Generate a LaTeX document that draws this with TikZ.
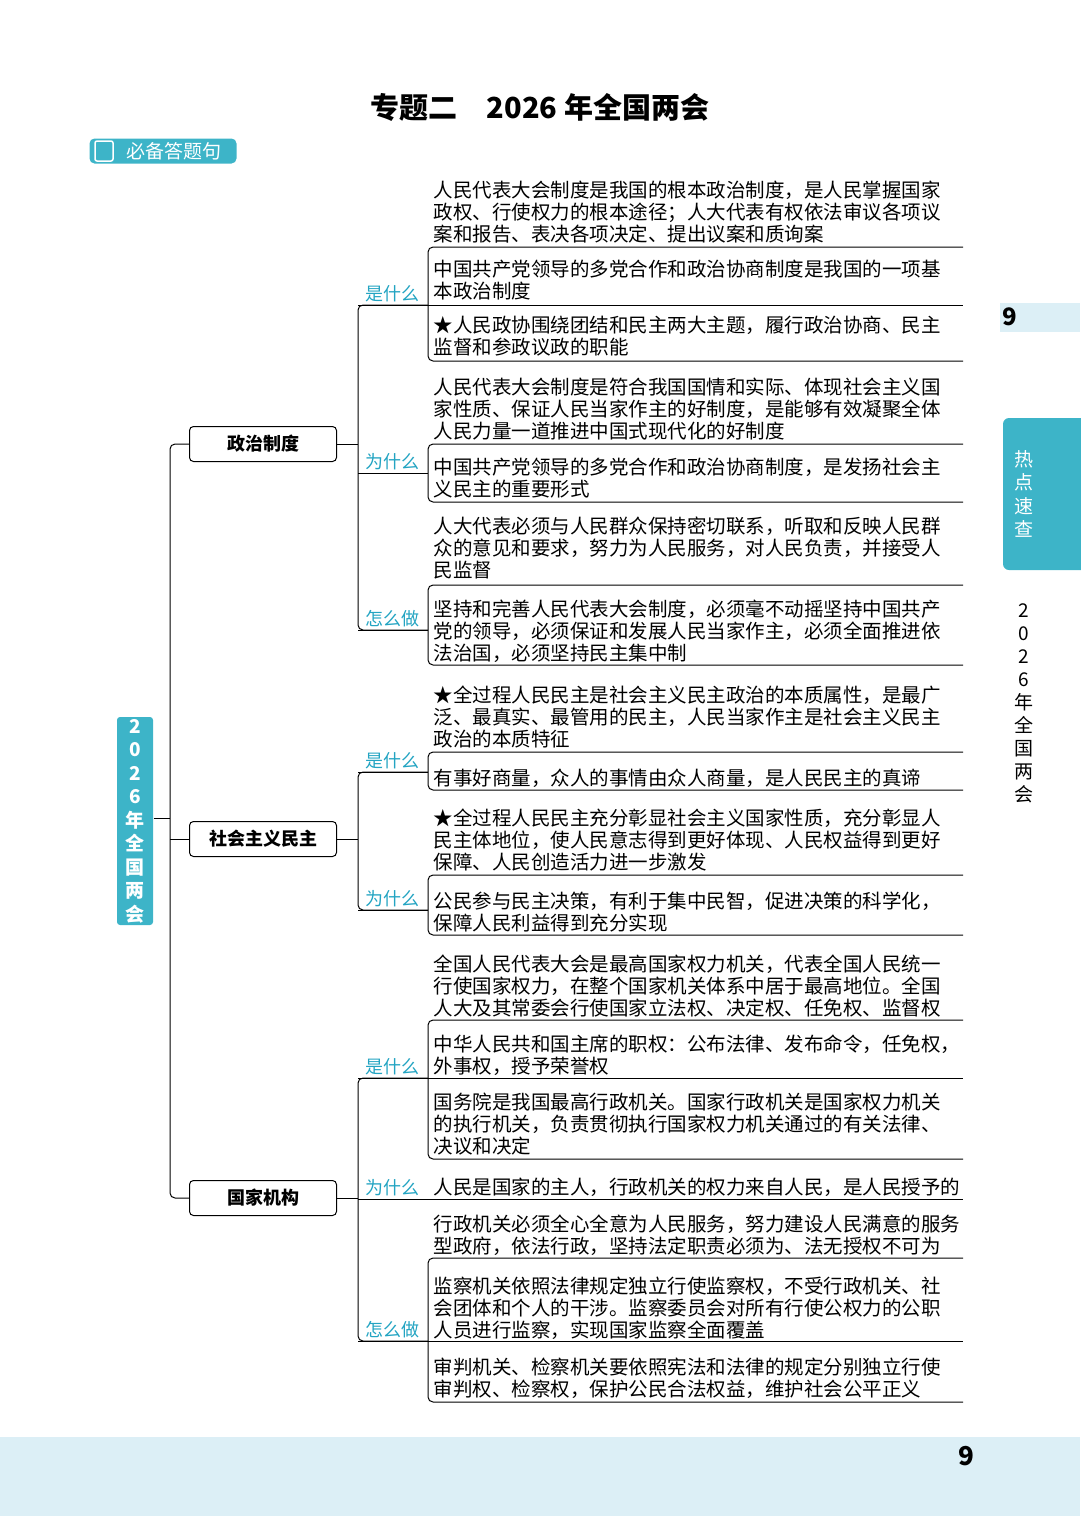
\documentclass[tikz,border=0pt]{standalone}
\usepackage{fontspec}
\setmainfont{Noto Sans CJK SC}
\newfontfamily\cjk{Noto Sans CJK SC}
\definecolor{teal}{HTML}{3DB4C8}
\definecolor{labcol}{HTML}{23A4C2}
\definecolor{pale}{HTML}{DCEFF6}
\begin{document}
\begin{tikzpicture}[x=1pt,y=-1pt,line width=1pt,
  item/.style={anchor=north west,inner sep=0pt,align=left,font=\fontsize{19.5}{22}\selectfont},
  lab/.style={text=labcol,inner sep=0pt,font=\fontsize{18}{20}\selectfont},
  mainbox/.style={draw,rounded corners=4pt,minimum width=147pt,minimum height=35pt,font=\bfseries\fontsize{18}{20}\selectfont},
  vert/.style={align=center,inner sep=0pt,font=\bfseries\fontsize{19}{23.5}\selectfont}]
  \useasboundingbox (0,0) rectangle (1080,1516);
  % page decoration
  \fill[pale] (0,1437) rectangle (1080,1516);
  \node[font=\bfseries\fontsize{26}{28}\selectfont] (pgnum) at (966,1456) {9};
  \fill[pale] (1000,303) rectangle (1080,332);
  \node[font=\bfseries\fontsize{24}{26}\selectfont] (tabnum) at (1010,317) {9};
  \fill[teal,rounded corners=6pt] (1003,418) rectangle (1095,570);
  \node[vert,text=white,font=\fontsize{19}{23.5}\selectfont] (tab) at (1024,494) {热\\点\\速\\查};
  \node[vert,font=\fontsize{19}{23}\selectfont] (side) at (1024,703) {2\\0\\2\\6\\年\\全\\国\\两\\会};
  \node[font=\bfseries\fontsize{29}{32}\selectfont] (title) at (540,107) {专题二\quad 2026 年全国两会};
  \node[fill=teal,text=white,rounded corners=5pt,minimum width=147pt,minimum height=25pt,
    inner sep=0pt,font=\fontsize{19}{20}\selectfont] (badge) at (163,151) {\hspace{22pt}必备答题句};
  \draw[white,line width=1.5pt,rounded corners=2pt] (95,141) rectangle (113,161);
  % root and branches
  \node[fill=teal,text=white,rounded corners=3pt,minimum width=36pt,minimum height=208pt,vert] (root) at (135,821) {2\\0\\2\\6\\年\\全\\国\\两\\会};
  \node[mainbox] (pol) at (263,444) {政治制度};
  \node[mainbox] (dem) at (263,839) {社会主义民主};
  \node[mainbox] (org) at (263,1198) {国家机构};
  \draw (root.east) ++(0,-3) -- (170,818);
  \draw[rounded corners=5pt] (pol.west) -- (170,444) -- (170,1198) -- (org.west);
  \draw (170,839) -- (dem.west);
  \foreach \b/\y in {pol/444,dem/839,org/1198}
    \draw (\b.east) -- (358,\y);
  \foreach \a/\b in {305/630,772/910,1078/1341}
    \draw[rounded corners=5pt] (428,\a) -- (358,\a) -- (358,\b) -- (428,\b);
  \draw (358,1199) -- (963,1199);
  % answer sentences
  \foreach \n/\y/\t in {
    A1/190/{人民代表大会制度是我国的根本政治制度，是人民掌握国家\\政权、行使权力的根本途径；人大代表有权依法审议各项议\\案和报告、表决各项决定、提出议案和质询案},
    A2/270/{中国共产党领导的多党合作和政治协商制度是我国的一项基\\本政治制度},
    A3/326/{★人民政协围绕团结和民主两大主题，履行政治协商、民主\\监督和参政议政的职能},
    B1/387/{人民代表大会制度是符合我国国情和实际、体现社会主义国\\家性质、保证人民当家作主的好制度，是能够有效凝聚全体\\人民力量一道推进中国式现代化的好制度},
    B2/468/{中国共产党领导的多党合作和政治协商制度，是发扬社会主\\义民主的重要形式},
    C1/526/{人大代表必须与人民群众保持密切联系，听取和反映人民群\\众的意见和要求，努力为人民服务，对人民负责，并接受人\\民监督},
    C2/609/{坚持和完善人民代表大会制度，必须毫不动摇坚持中国共产\\党的领导，必须保证和发展人民当家作主，必须全面推进依\\法治国，必须坚持民主集中制},
    D1/695/{★全过程人民民主是社会主义民主政治的本质属性，是最广\\泛、最真实、最管用的民主，人民当家作主是社会主义民主\\政治的本质特征},
    D2/778/{有事好商量，众人的事情由众人商量，是人民民主的真谛},
    E1/818/{★全过程人民民主充分彰显社会主义国家性质，充分彰显人\\民主体地位，使人民意志得到更好体现、人民权益得到更好\\保障、人民创造活力进一步激发},
    E2/901/{公民参与民主决策，有利于集中民智，促进决策的科学化，\\保障人民利益得到充分实现},
    F1/964/{全国人民代表大会是最高国家权力机关，代表全国人民统一\\行使国家权力，在整个国家机关体系中居于最高地位。全国\\人大及其常委会行使国家立法权、决定权、任免权、监督权},
    F2/1044/{中华人民共和国主席的职权：公布法律、发布命令，任免权，\\外事权，授予荣誉权},
    F3/1102/{国务院是我国最高行政机关。国家行政机关是国家权力机关\\的执行机关，负责贯彻执行国家权力机关通过的有关法律、\\决议和决定},
    G1/1187/{人民是国家的主人，行政机关的权力来自人民，是人民授予的},
    H1/1224/{行政机关必须全心全意为人民服务，努力建设人民满意的服务\\型政府，依法行政，坚持法定职责必须为、法无授权不可为},
    H2/1286/{监察机关依照法律规定独立行使监察权，不受行政机关、社\\会团体和个人的干涉。监察委员会对所有行使公权力的公职\\人员进行监察，实现国家监察全面覆盖},
    H3/1367/{审判机关、检察机关要依照宪法和法律的规定分别独立行使\\审判权、检察权，保护公民合法权益，维护社会公平正义}}
    \node[item] (\n) at (433,\y-10) {\t};
  % brackets under the sentences
  \foreach \u/\v in {247/361,444/502,585/665,752/790,875/935,1020/1159,1258/1402}
    \draw[rounded corners=5pt] (963,\u) -- (428,\u) -- (428,\v) -- (963,\v);
  \foreach \u in {305,1078,1341}
    \draw (428,\u) -- (963,\u);
  % question labels
  \foreach \y/\t in {305/是什么,473/为什么,630/怎么做,772/是什么,910/为什么,1078/是什么,1199/为什么,1341/怎么做}
    { \draw (358,\y) -- (428,\y);
      \node[lab,anchor=south] at (392,\y-3) {\t}; }
\end{tikzpicture}
\end{document}
